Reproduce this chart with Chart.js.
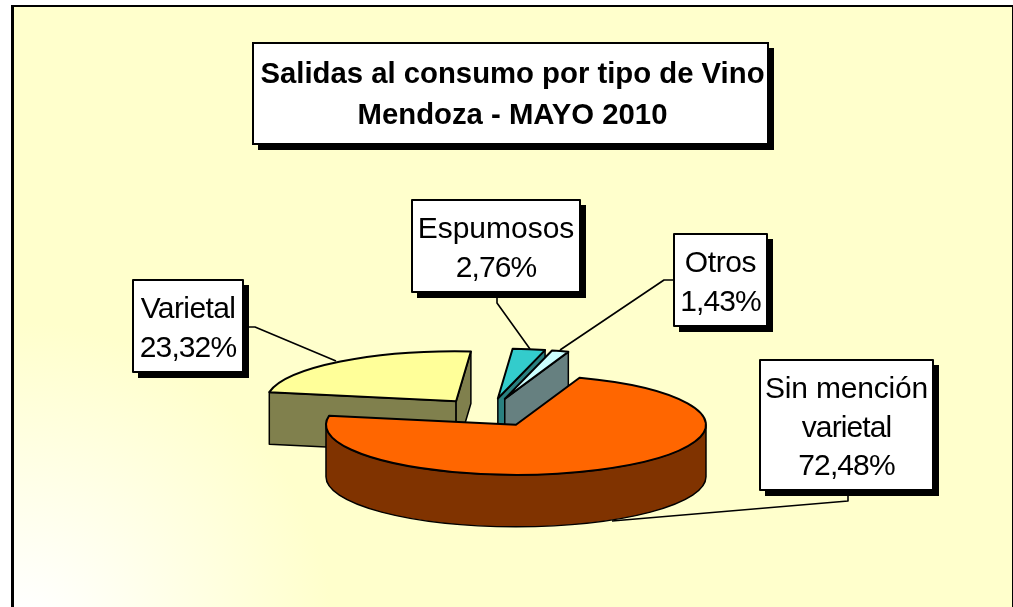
<!DOCTYPE html>
<html>
<head>
<meta charset="utf-8">
<title>Salidas al consumo por tipo de Vino</title>
<script src="https://cdn.jsdelivr.net/npm/chart.js@4/dist/chart.umd.min.js"></script>
<style>
  html, body { margin: 0; padding: 0; background: #fff; overflow: hidden; }
  #panel {
    position: absolute; left: 11px; top: 5px; width: 998px; height: 640px;
    border: solid #000; border-width: 2px 3px;
    background: radial-gradient(circle at 0px 635px, #ffffff 30px, #ffffcc 320px);
  }
  #myChart { position: absolute; left: 0; top: 0; }
</style>
</head>
<body>
<div id="panel"></div>
<canvas id="myChart" width="1013" height="607"></canvas>
<script>
// Data, back slices first so the orange one ends up on top
const categories = [["Varietal"], ["Espumosos"], ["Otros"], ["Sin mención", "varietal"]];
const shares = [23.32, 2.76, 1.43, 72.48];
const topColors = ["#ffff99", "#33cccc", "#ccffff", "#ff6600"];
const wallColors = ["#80804d", "#2a8080", "#668080", "#803300"];
const titleLines = ["Salidas al consumo por tipo de Vino", "Mendoza - MAYO 2010"];

// Label boxes [left, top, right, bottom] and their leader lines
const labelBoxes = [[133, 280, 243, 372], [412, 200, 580, 292], [674, 234, 767, 326], [760, 360, 933, 490]];
const leaders = [
  [[243, 327], [255, 327], [336, 361]],
  [[497, 292], [497, 303], [530, 349]],
  [[674, 280], [664, 280], [560, 350]],
  [[848, 490], [848, 501], [612, 521]]
];
const titleBox = [253, 43, 768, 144];
// tall narrow glyphs in the original: 30px type, tightened per line
const nameSpacing = ["-0.6px", "0px", "-0.4px", "-0.2px"];
const restSpacing = "-0.9px";

// 3D look
const pieX = 489, pieY = 412.5, tilt = 0.263, explode = 54, depth = 52;
const fontName = '"Liberation Sans", Arial, sans-serif';

function drawBox(ctx, b) {
  ctx.fillStyle = "#000";
  ctx.fillRect(b[0] + 5, b[1] + 5, b[2] - b[0] + 1, b[3] - b[1] + 1);
  ctx.fillStyle = "#fff";
  ctx.fillRect(b[0], b[1], b[2] - b[0], b[3] - b[1]);
  ctx.lineWidth = 2;
  ctx.strokeStyle = "#000";
  ctx.strokeRect(b[0], b[1], b[2] - b[0], b[3] - b[1]);
}

function sliceCenter(arc) {
  const mid = (arc.startAngle + arc.endAngle) / 2;
  return { x: pieX + explode * Math.cos(mid), y: pieY + explode * Math.sin(mid) * tilt };
}

function drawWalls(ctx, arc, color) {
  const c = sliceCenter(arc);
  const r = arc.outerRadius;
  const s = arc.startAngle, e = arc.endAngle;
  ctx.fillStyle = color;
  ctx.strokeStyle = "#000";
  ctx.lineWidth = 1.5;
  ctx.lineJoin = "round";

  // flat cut faces, only the ones turned to the viewer
  const cuts = [];
  if (Math.cos(s) < 0) cuts.push(s);
  if (Math.cos(e) > 0) cuts.push(e);
  cuts.forEach(function (a) {
    const px = c.x + r * Math.cos(a), py = c.y + r * Math.sin(a) * tilt;
    ctx.beginPath();
    ctx.moveTo(c.x, c.y);
    ctx.lineTo(px, py);
    ctx.lineTo(px, py + depth);
    ctx.lineTo(c.x, c.y + depth);
    ctx.closePath();
    ctx.fill();
    ctx.stroke();
  });

  // curved front wall
  for (let k = -1; k <= 2; k++) {
    const lo = Math.max(s, 2 * Math.PI * k);
    const hi = Math.min(e, 2 * Math.PI * k + Math.PI);
    if (hi <= lo) continue;
    ctx.beginPath();
    ctx.ellipse(c.x, c.y, r, r * tilt, 0, lo, hi);
    ctx.ellipse(c.x, c.y + depth, r, r * tilt, 0, hi, lo, true);
    ctx.closePath();
    ctx.fill();
    ctx.stroke();
  }
}

const pie3d = {
  id: "pie3d",
  beforeDraw(chart) {
    drawBox(chart.ctx, titleBox);
  },
  // the library's arcs are drawn here, squashed and pulled apart
  beforeDatasetDraw(chart, args) {
    const ctx = chart.ctx;
    const arcs = args.meta.data;
    arcs.forEach(function (arc, i) { drawWalls(ctx, arc, wallColors[i]); });
    arcs.forEach(function (arc) {
      const c = sliceCenter(arc);
      ctx.save();
      ctx.translate(c.x, c.y);
      ctx.scale(1, tilt);
      ctx.translate(-arc.x, -arc.y);
      arc.draw(ctx);
      ctx.restore();

      ctx.beginPath();
      ctx.moveTo(c.x, c.y);
      ctx.ellipse(c.x, c.y, arc.outerRadius, arc.outerRadius * tilt, 0, arc.startAngle, arc.endAngle);
      ctx.closePath();
      ctx.strokeStyle = "#000";
      ctx.lineWidth = 2;
      ctx.lineJoin = "round";
      ctx.stroke();
    });
    return false;
  },
  afterDraw(chart) {
    const ctx = chart.ctx;
    ctx.save();
    leaders.forEach(function (pts) {
      ctx.beginPath();
      ctx.moveTo(pts[0][0], pts[0][1]);
      ctx.lineTo(pts[1][0], pts[1][1]);
      ctx.lineTo(pts[2][0], pts[2][1]);
      ctx.strokeStyle = "#000";
      ctx.lineWidth = 1.6;
      ctx.stroke();
    });
    labelBoxes.forEach(function (b, i) {
      drawBox(ctx, b);
      const lines = categories[i].concat(shares[i].toFixed(2).replace(".", ",") + "%");
      ctx.fillStyle = "#000";
      ctx.font = "30px " + fontName;
      ctx.textAlign = "center";
      ctx.textBaseline = "alphabetic";
      lines.forEach(function (t, n) {
        ctx.letterSpacing = n === 0 ? nameSpacing[i] : restSpacing;
        ctx.fillText(t, (b[0] + b[2]) / 2, b[1] + 38 + n * 38.5);
      });
      ctx.letterSpacing = "0px";
    });
    ctx.restore();
  }
};

const myChart = new Chart(document.getElementById("myChart"), {
  type: "pie",
  data: {
    labels: categories,
    datasets: [{
      data: shares,
      backgroundColor: topColors,
      borderWidth: 0,
      radius: 190
    }]
  },
  options: {
    responsive: false,
    animation: false,
    rotation: 280.5,
    layout: { padding: { left: 12 } },
    plugins: {
      legend: { display: false },
      tooltip: { enabled: false },
      title: {
        display: true,
        text: titleLines,
        color: "#000",
        font: { family: fontName, size: 29.3, weight: "bold", lineHeight: 1.39 },
        padding: { top: 55, bottom: 0 }
      }
    }
  },
  plugins: [pie3d]
});
</script>
</body>
</html>
